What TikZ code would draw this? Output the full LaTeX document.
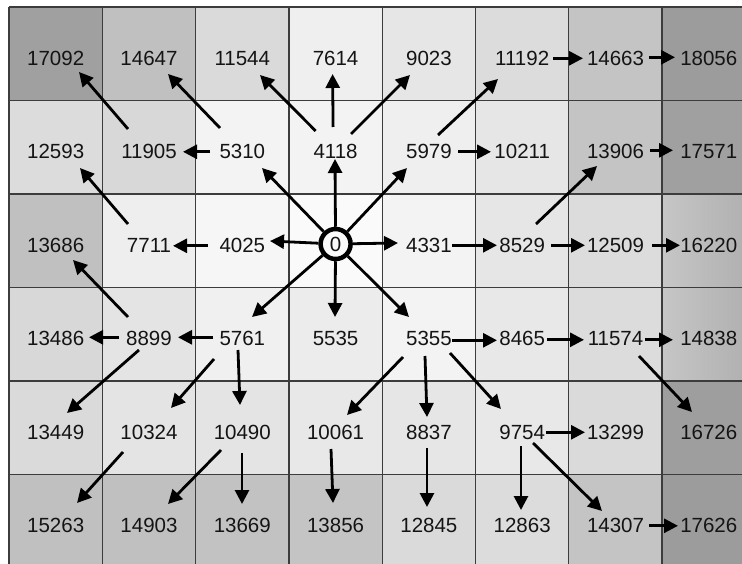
\documentclass[tikz,border=0pt]{standalone}
\usepackage{fontspec}
\setmainfont{Liberation Sans}
\usetikzlibrary{arrows.meta,calc}
\definecolor{shL}{RGB}{198,198,198}
\definecolor{shR}{RGB}{174,174,174}
\definecolor{gridc}{RGB}{60,60,60}
\newcommand\arw[6]{\draw[arr] ($(#1)+(#2,#3)$) -- ($(#4)+(#5,#6)$);}
\begin{document}
\begin{tikzpicture}[x=1pt,y=-1pt,
  num/.style={inner sep=0pt, font=\fontsize{20.5}{24}\selectfont, text=black!92},
  arr/.style={line width=2.8pt, -{Triangle[length=14pt,width=14pt]}},
  gridl/.style={draw=gridc, line width=1.3pt}]
\useasboundingbox (0,0) rectangle (742,564);
\fill[white] (0,0) rectangle (742,564);
\begin{scope}
\clip (0,0) rectangle (742,564);
% cell shading
\foreach \r/\c/\g in {
 0/0/160,0/1/192,0/2/218,0/3/239,0/4/230,0/5/220,0/6/196,0/7/156,
 1/0/220,1/1/216,1/2/243,1/3/243,1/4/239,1/5/230,1/6/196,1/7/160,
 2/0/192,2/1/238,2/2/246,2/3/250,2/4/243,2/5/230,2/6/220,
 3/0/216,3/1/228,3/2/240,3/3/236,3/4/243,3/5/232,3/6/220,
 4/0/218,4/1/228,4/2/228,4/3/232,4/4/230,4/5/232,4/6/218,4/7/158,
 5/0/192,5/1/192,5/2/194,5/3/196,5/4/218,5/5/220,5/6/196,5/7/156}
 \fill[fill={rgb,255:red,\g;green,\g;blue,\g}] ({9+93.3*\c},{7+93.5*\r}) rectangle ++(93.3,93.5);
\shade[left color=shL,right color=shR] ({9+93.3*7},{7+93.5*2}) rectangle ++(93.3,93.5);
\shade[left color=shL,right color=shR] ({9+93.3*7},{7+93.5*3}) rectangle ++(93.3,93.5);
% grid
\foreach \i in {0,...,8} \draw[gridl] ({9+93.3*\i},7) -- ({9+93.3*\i},570);
\foreach \j in {0,...,6} \draw[gridl] (9,{7+93.5*\j}) -- (760,{7+93.5*\j});
\end{scope}
% numbers
\foreach \r/\c/\t in {
 0/0/17092,0/1/14647,0/2/11544,0/3/7614,0/4/9023,0/5/11192,0/6/14663,0/7/18056,
 1/0/12593,1/1/11905,1/2/5310,1/3/4118,1/4/5979,1/5/10211,1/6/13906,1/7/17571,
 2/0/13686,2/1/7711,2/2/4025,2/4/4331,2/5/8529,2/6/12509,2/7/16220,
 3/0/13486,3/1/8899,3/2/5761,3/3/5535,3/4/5355,3/5/8465,3/6/11574,3/7/14838,
 4/0/13449,4/1/10324,4/2/10490,4/3/10061,4/4/8837,4/5/9754,4/6/13299,4/7/16726,
 5/0/15263,5/1/14903,5/2/13669,5/3/13856,5/4/12845,5/5/12863,5/6/14307,5/7/17626}
 \node[num] (n\r\c) at ({55.7+93.3*\c},{58.3+93.5*\r}) {\t};
\node[num, circle, draw=black, line width=4.5pt, minimum size=30pt] (n23) at (335.6,244) {0};
% arrows from the start cell
\draw[arr] (n23) -- ($(n13)+(-0.6,7.2)$);
\draw[arr] (n23) -- ($(n22)+(27.7,-4.3)$);
\draw[arr] (n23) -- ($(n24)+(-30.9,-2.3)$);
\draw[arr] (n23) -- ($(n33)+(-0.6,-21.8)$);
\draw[arr] (n23) -- ($(n12)+(19.7,16.2)$);
\draw[arr] (n23) -- ($(n14)+(-21.9,16.2)$);
\draw[arr] (n23) -- ($(n32)+(9.7,-21.8)$);
\draw[arr] (n23) -- ($(n34)+(-19.9,-21.8)$);
% other arrows
\arw{n13}{-19.9}{-20.8}{n02}{17.7}{16.7}
\arw{n13}{-2.5}{-24.8}{n03}{-3}{15.7}
\arw{n13}{15.4}{-17.8}{n04}{-18.9}{16.7}
\arw{n12}{-22.3}{-23.8}{n01}{19}{15.7}
\arw{n12}{-32.3}{0}{n11}{34}{0}
\arw{n11}{-21}{-22.8}{n00}{23.3}{13.7}
\arw{n14}{9.1}{-16.8}{n05}{-24.2}{20.7}
\arw{n14}{29.1}{0}{n15}{-31.2}{0}
\arw{n05}{30.8}{0}{n06}{-32.5}{0}
\arw{n06}{33.5}{-1}{n07}{-33.8}{-1}
\arw{n16}{34.5}{-1.5}{n17}{-35.8}{-1.5}
\arw{n25}{13.8}{-21.3}{n16}{-18.5}{14.2}
\arw{n22}{-34.3}{0.5}{n21}{24}{0.5}
\arw{n21}{-21}{-21.3}{n10}{24.3}{16.2}
\arw{n24}{23.1}{0}{n25}{-25.2}{0}
\arw{n25}{28.8}{0}{n26}{-30.5}{0}
\arw{n26}{36.5}{0}{n27}{-28.8}{0}
\arw{n32}{-29.3}{-1.5}{n31}{29}{-1.5}
\arw{n31}{-21}{-21.8}{n20}{17.3}{14.7}
\arw{n31}{-30}{-1.5}{n30}{33.3}{-1.5}
\arw{n31}{-10}{11.2}{n40}{11.3}{-19.3}
\arw{n32}{-28.3}{20.2}{n41}{22}{-24.3}
\arw{n32}{-4.3}{11.2}{n42}{-2.3}{-27.3}
\arw{n34}{23.1}{1.5}{n35}{-25.2}{1.5}
\arw{n34}{-25.9}{18.2}{n43}{11.4}{-17.3}
\arw{n34}{-3.9}{17.2}{n44}{-1.9}{-15.3}
\arw{n34}{21.1}{14.2}{n45}{-21.2}{-23.3}
\arw{n35}{24.8}{1}{n36}{-31.5}{1}
\arw{n36}{29.5}{1}{n37}{-35.8}{1}
\arw{n36}{23.5}{17.2}{n47}{-16.8}{-20.3}
\arw{n41}{-26}{19.7}{n50}{21.3}{-22.8}
\arw{n42}{-21.3}{17.7}{n51}{19}{-21.8}
\arw{n42}{-0.3}{20.7}{n52}{-0.3}{-21.8}
\arw{n43}{-4.6}{16.7}{n53}{-2.6}{-22.8}
\arw{n44}{-1.9}{15.7}{n54}{-1.9}{-18.8}
\arw{n45}{23.8}{0}{n46}{-30.5}{0}
\arw{n45}{-1.2}{13.7}{n55}{-1.2}{-15.8}
\arw{n45}{10.8}{10.7}{n56}{-13.5}{-14.8}
\arw{n56}{33.5}{0}{n57}{-30.8}{0}
\end{tikzpicture}
\end{document}
